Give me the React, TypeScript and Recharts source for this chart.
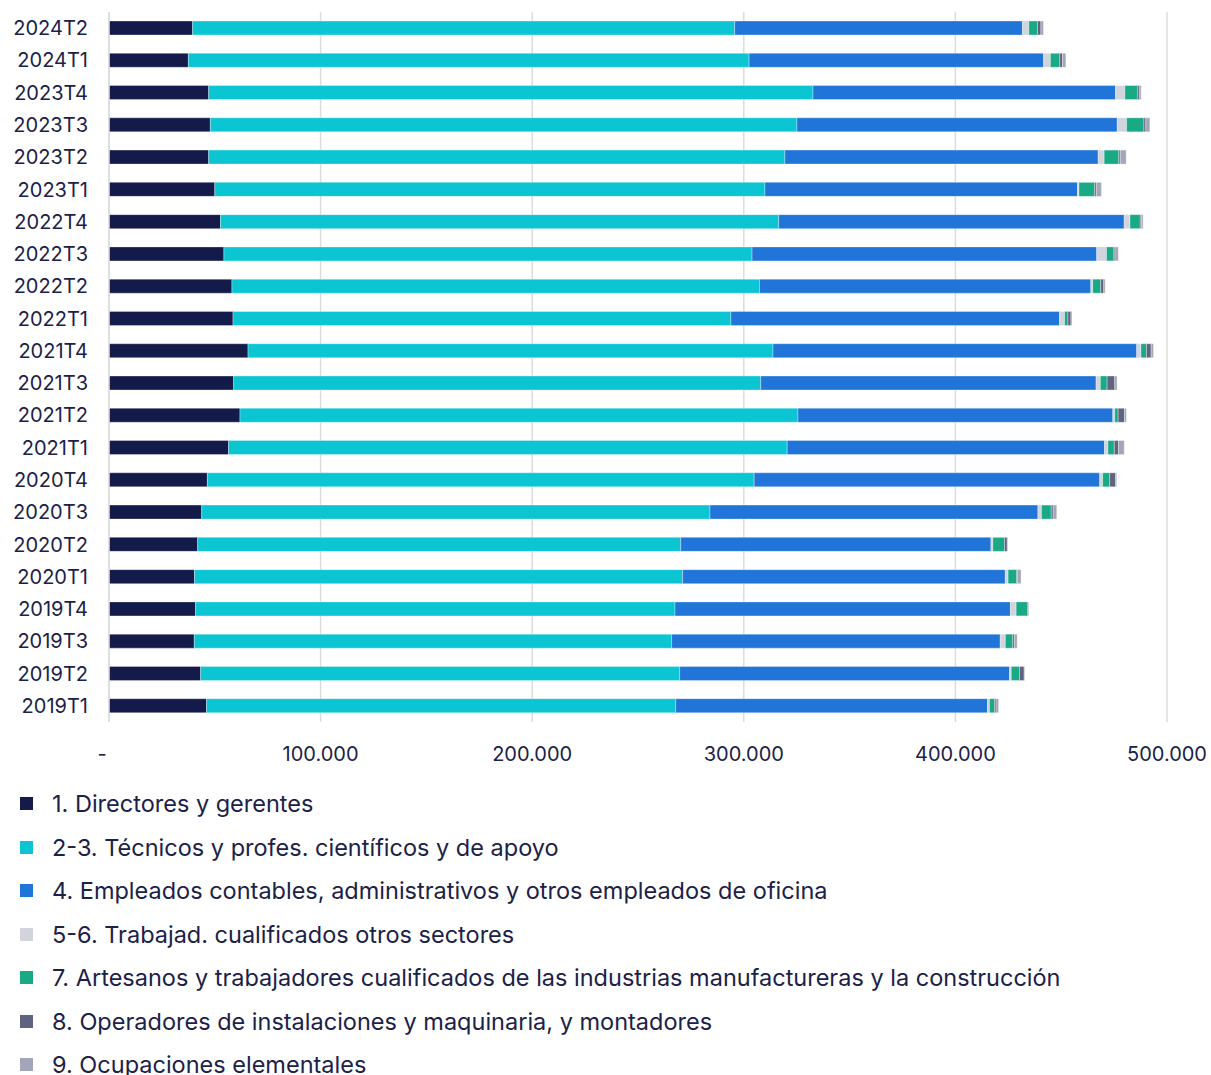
import React from 'react';
import {
  BarChart,
  Bar,
  XAxis,
  YAxis,
  CartesianGrid,
  Legend,
} from 'recharts';

// Quarters, oldest first (drawn bottom to top)
const quarters = [
  '2019T1', '2019T2', '2019T3', '2019T4',
  '2020T1', '2020T2', '2020T3', '2020T4',
  '2021T1', '2021T2', '2021T3', '2021T4',
  '2022T1', '2022T2', '2022T3', '2022T4',
  '2023T1', '2023T2', '2023T3', '2023T4',
  '2024T1', '2024T2',
];

const directores = [
  46100, 43300, 40300, 40900, 40400, 41900, 43800, 46500, 56500, 61900, 58900,
  65700, 58600, 58100, 54300, 52700, 50000, 47100, 47900, 47100, 37500, 39500,
];
const tecnicos = [
  221700, 226400, 225600, 226600, 230700, 228300, 240200, 258400, 264000, 263700,
  249100, 248100, 235300, 249300, 249600, 263800, 260000, 272300, 277200, 285600,
  265000, 256200,
];
const empleados = [
  147400, 155900, 155300, 158500, 152500, 146600, 155000, 163300, 150000, 148800,
  158500, 171900, 155300, 156600, 162900, 163300, 147700, 148100, 151400, 143000,
  139200, 136000,
];
const trabajad = [
  900, 800, 2400, 2700, 1300, 900, 1700, 1400, 1600, 900, 2000, 2000, 2400, 900,
  4600, 2700, 700, 2800, 4400, 4400, 3200, 3000,
];
const artesanos = [
  2400, 3900, 3500, 5500, 4100, 5500, 4600, 3300, 3000, 1600, 3200, 2600, 1600,
  3800, 3500, 4900, 7400, 6900, 8200, 6100, 4400, 4100,
];
const operadores = [
  700, 2200, 800, 300, 300, 1300, 900, 2800, 2000, 3000, 3600, 2200, 1400, 1400,
  500, 600, 800, 700, 900, 900, 1300, 1600,
];
const elementales = [
  1200, 300, 1300, 300, 1700, 300, 1700, 500, 2700, 900, 1100, 1100, 500, 700,
  1600, 700, 2400, 2800, 1900, 700, 1600, 1200,
];

const xTicks = [0, 100000, 200000, 300000, 400000, 500000];

const SERIES = [
  { key: 'directores', name: '1. Directores y gerentes', color: '#141b4b', values: directores },
  { key: 'tecnicos', name: '2-3. Técnicos y profes. científicos y de apoyo', color: '#0bc5d3', values: tecnicos },
  { key: 'empleados', name: '4. Empleados contables, administrativos y otros empleados de oficina', color: '#2175d9', values: empleados },
  { key: 'trabajad', name: '5-6. Trabajad. cualificados otros sectores', color: '#d1d4dc', values: trabajad },
  { key: 'artesanos', name: '7. Artesanos y trabajadores cualificados de las industrias manufactureras y la construcción', color: '#1aa985', values: artesanos },
  { key: 'operadores', name: '8. Operadores de instalaciones y maquinaria, y montadores', color: '#5f6381', values: operadores },
  { key: 'elementales', name: '9. Ocupaciones elementales', color: '#a3a6b8', values: elementales },
];

const data = quarters.map((q, i) => {
  const row: Record<string, string | number> = { quarter: q };
  SERIES.forEach((s) => {
    row[s.key] = s.values[i];
  });
  return row;
});

const TEXT = '#1b2148';
const FONT = 'Inter, "Noto Sans", sans-serif';

const fmt = (v: number) =>
  v === 0 ? '-' : v.toLocaleString('de-DE');

const XTick = (props: any) => {
  const { x, y, payload } = props;
  const v = payload.value as number;
  return (
    <text
      x={v === 0 ? x - 7 : x}
      y={y + 30}
      textAnchor="middle"
      dominantBaseline="central"
      fill={TEXT}
      fontSize={20}
      fontFamily={FONT}
    >
      {fmt(v)}
    </text>
  );
};

const YTick = (props: any) => {
  const { y, payload } = props;
  return (
    <text
      x={88}
      y={y}
      textAnchor="end"
      dominantBaseline="central"
      fill={TEXT}
      fontSize={20}
      fontFamily={FONT}
    >
      {payload.value}
    </text>
  );
};

const renderLegend = () => (
  <div style={{ height: 293, paddingLeft: 20, fontFamily: FONT, textAlign: 'left' }}>
    {SERIES.map((s) => (
      <div
        key={s.key}
        style={{
          display: 'flex',
          alignItems: 'center',
          height: 43.5,
          color: TEXT,
          fontSize: 23.5,
          whiteSpace: 'nowrap',
        }}
      >
        <span
          style={{
            display: 'inline-block',
            width: 13,
            height: 13,
            background: s.color,
            marginRight: 19,
            flexShrink: 0,
          }}
        />
        {s.name}
      </div>
    ))}
  </div>
);

export default function App() {
  return (
    <div style={{ position: 'absolute', left: 0, top: 0, background: '#fff' }}>
      <BarChart
        width={1211}
        height={1075}
        data={data}
        layout="vertical"
        margin={{ top: 12, right: 44, bottom: 0, left: 0 }}
        barSize={14}
      >
        <CartesianGrid
          horizontal={false}
          vertical
          stroke="#dcdcdc"
          strokeWidth={1.5}
        />
        <XAxis
          type="number"
          domain={[0, 500000]}
          ticks={xTicks}
          axisLine={false}
          tickLine={false}
          tickSize={0}
          height={60}
          tick={<XTick />}
          interval={0}
        />
        <YAxis
          type="category"
          dataKey="quarter"
          reversed
          width={109}
          axisLine={{ stroke: '#dcdcdc', strokeWidth: 1.5 }}
          tickLine={false}
          tickSize={0}
          tick={<YTick />}
          interval={0}
        />
        <Legend
          verticalAlign="bottom"
          align="left"
          layout="horizontal"
          height={293}
          wrapperStyle={{ left: 0, width: 1211, height: 293 }}
          content={renderLegend}
        />
        {SERIES.map((s) => (
          <Bar
            key={s.key}
            dataKey={s.key}
            name={s.name}
            stackId="a"
            fill={s.color}
            stroke="rgba(255,255,255,0.55)"
            strokeWidth={0.6}
            isAnimationActive={false}
          />
        ))}
      </BarChart>
    </div>
  );
}
